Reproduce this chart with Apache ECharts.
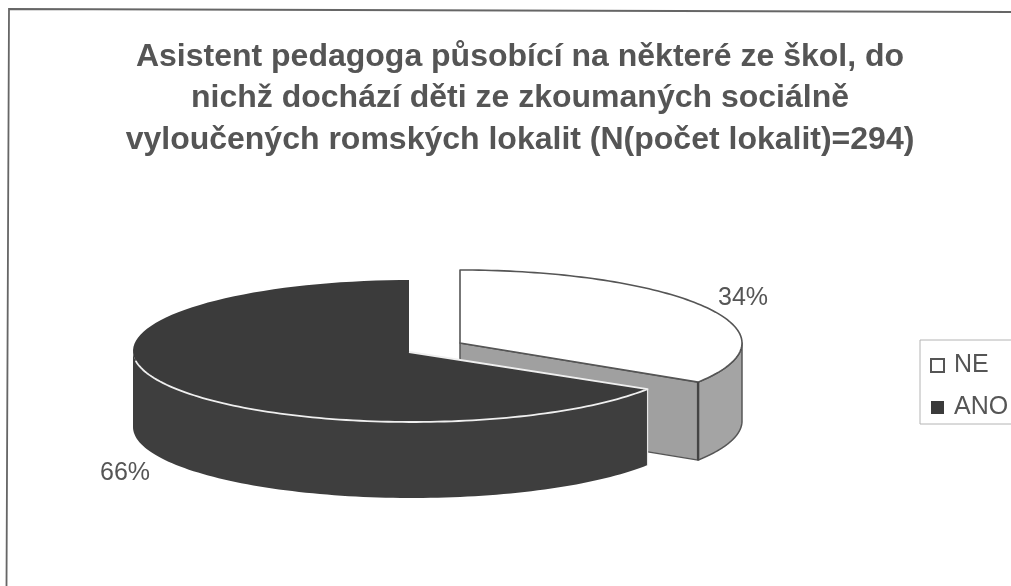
<!DOCTYPE html>
<html>
<head>
<meta charset="utf-8">
<style>html,body{margin:0;padding:0;background:#fff}#c{width:1011px;height:586px}</style>
<script src="https://cdn.jsdelivr.net/npm/echarts@6/dist/echarts.min.js"></script>
</head>
<body>
<div id="c"></div>
<script>
// Answer categories and their shares of the surveyed localities, in percent.
const categories = ['NE', 'ANO'];
const shares = [34, 66];
const titleLines = [
  'Asistent pedagoga působící na některé ze škol, do',
  'nichž dochází děti ze zkoumaných sociálně',
  'vyloučených romských lokalit (N(počet lokalit)=294)'
];

const TEXT = '#555555';
const total = shares.reduce((a, b) => a + b, 0);

// Clockwise angle from 12 o'clock, in radians, where a category's slice begins.
function startAngle(i) {
  return shares.slice(0, i).reduce((a, b) => a + b, 0) / total * 2 * Math.PI;
}

// Projected ellipse used by each exploded slice.
const discs = [
  { cx: 460, cy: 343, rx: 282, ry: 73, depth: 78, apexX: 460, apexY: 343 },
  { cx: 412, cy: 351, rx: 279, ry: 71, depth: 76, apexX: 409, apexY: 352 }
];

function rim(d, a, drop) {
  return [d.cx + d.rx * Math.sin(a), d.cy - d.ry * Math.cos(a) + (drop || 0)];
}
function arc(d, from, to, drop) {
  const n = 96, pts = [];
  for (let k = 0; k <= n; k++) pts.push(rim(d, from + (to - from) * k / n, drop));
  return pts;
}
function poly(points, fill, stroke, width) {
  return { type: 'polygon', shape: { points }, style: { fill, stroke: stroke || null, lineWidth: width || 0, lineJoin: 'round' } };
}
function line(points, stroke, width) {
  return { type: 'polyline', shape: { points }, style: { fill: null, stroke, lineWidth: width, lineJoin: 'round' } };
}
function label(text, x, y) {
  return { type: 'text', style: { text, x, y, fill: TEXT, fontSize: 25, fontFamily: 'Liberation Sans', align: 'center', verticalAlign: 'middle' } };
}

// Open slice: white top face, grey cut face and grey outer wall.
function renderNe(params, api) {
  const d = discs[0];
  const a0 = startAngle(0), a1 = a0 + api.value(0) / total * 2 * Math.PI;
  const apex = [d.apexX, d.apexY], corner = rim(d, a1);
  const wall = arc(d, Math.PI / 2, a1).concat(arc(d, a1, Math.PI / 2, d.depth));
  const cut = [apex, corner, [corner[0], corner[1] + d.depth], [apex[0], apex[1] + d.depth]];
  return { type: 'group', children: [
    poly(wall, '#a4a4a4', '#555', 1.5),
    poly(cut, '#a0a0a0', '#555', 1.5),
    poly([apex].concat(arc(d, a0, a1)), '#ffffff', '#555', 1.6),
    line([corner, [corner[0], corner[1] + d.depth]], '#444', 2.4),
    label(api.value(0) + '%', 743, 298)
  ] };
}

// Dark slice: wall from the cut round to the left side, then top face and light edges.
function renderAno(params, api) {
  const d = discs[1];
  const a0 = startAngle(1), a1 = a0 + api.value(0) / total * 2 * Math.PI;
  const apex = [d.apexX, d.apexY], corner = rim(d, a0);
  const left = 1.5 * Math.PI;
  const wall = arc(d, a0, left).concat(arc(d, left, a0, d.depth));
  const top = [apex].concat(arc(d, a0, a1), [[apex[0], d.cy - d.ry]]);
  const edge = [apex].concat(arc(d, a0, left - 0.14));
  return { type: 'group', children: [
    poly(wall, '#3e3e3e'),
    poly(top, '#3b3b3b'),
    line([corner, [corner[0], corner[1] + d.depth]], '#e6e6e6', 1.2),
    line(edge, '#efefef', 1.8),
    label(api.value(0) + '%', 125, 473)
  ] };
}

const chart = echarts.init(document.getElementById('c'), null, { renderer: 'canvas' });
chart.setOption({
  animation: false,
  backgroundColor: '#ffffff',
  title: {
    text: titleLines.join('\n'),
    left: 515,
    top: 31,
    textAlign: 'center',
    textStyle: { fontFamily: 'Liberation Sans', fontWeight: 'bold', fontSize: 32, lineHeight: 41.5, color: TEXT }
  },
  legend: {
    data: categories,
    icon: 'rect',
    orient: 'vertical',
    left: 920,
    top: 340,
    padding: [13, 14, 4, 10],
    itemWidth: 13,
    itemHeight: 13,
    itemGap: 17,
    backgroundColor: '#ffffff',
    borderColor: '#b4b4b4',
    borderWidth: 1,
    selectedMode: false,
    textStyle: { fontFamily: 'Liberation Sans', fontSize: 25, color: TEXT, padding: [0, 0, 0, 5] }
  },
  series: [
    { type: 'custom', name: categories[0], coordinateSystem: 'none', silent: true,
      data: [[shares[0]]], renderItem: renderNe,
      itemStyle: { color: '#ffffff', borderColor: '#555', borderWidth: 1.6 } },
    { type: 'custom', name: categories[1], coordinateSystem: 'none', silent: true,
      data: [[shares[1]]], renderItem: renderAno,
      itemStyle: { color: '#3b3b3b' } }
  ],
  graphic: [
    { type: 'polyline', silent: true, z: 10,
      shape: { points: [[6.5, 586], [9, 9], [1011, 12]] },
      style: { fill: null, stroke: '#666', lineWidth: 1.8 } }
  ]
});
</script>
</body>
</html>
